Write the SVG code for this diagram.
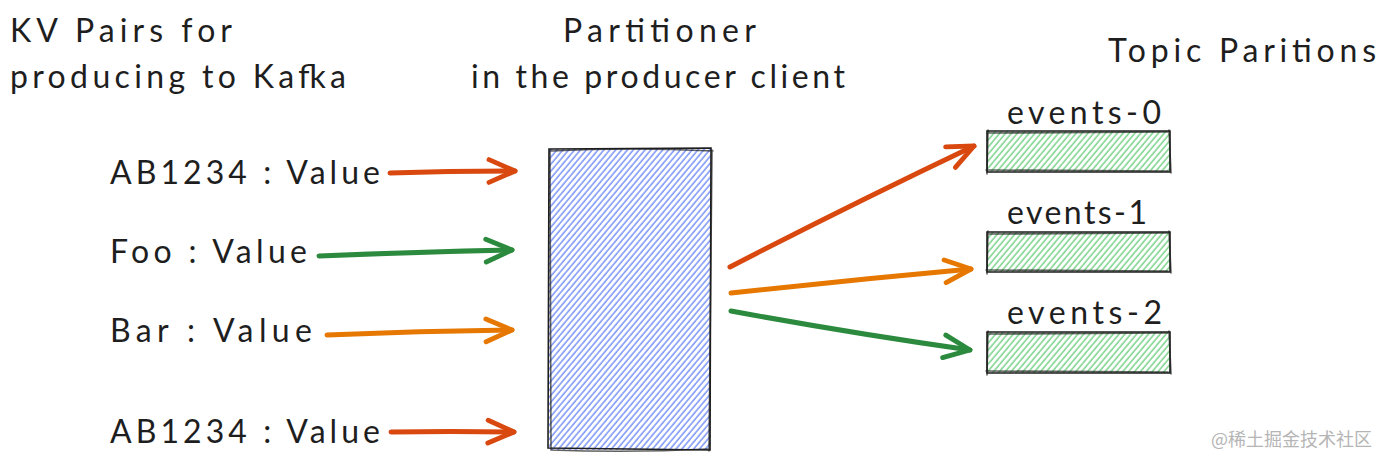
<svg xmlns="http://www.w3.org/2000/svg" width="1386" height="465" viewBox="0 0 1386 465">
<style>
.t{font-family:"Lato","Liberation Sans",sans-serif;fill:#1e1e1e;font-size:32px}
.e{font-family:"Lato","Liberation Sans",sans-serif;fill:#1e1e1e;font-size:32px}
.b{fill:none;stroke:#1e1e1e;stroke-width:1.6;stroke-linecap:round}
.a{fill:none;stroke-width:5;stroke-linecap:round;stroke-linejoin:round}
.red{stroke:#d9480f}.grn{stroke:#2b8a3e}.org{stroke:#e67700}
.wm{font-family:"Noto Sans CJK SC",sans-serif;font-size:18px;fill:#b5b5b5}
</style>
<defs>
<pattern id="hb" width="4.5" height="10" patternUnits="userSpaceOnUse" patternTransform="rotate(40)">
<line x1="1" y1="0" x2="1" y2="10" stroke="#4c6ef5" stroke-width="1.3" stroke-opacity="0.85"/>
</pattern>
<pattern id="hg" width="4.5" height="10" patternUnits="userSpaceOnUse" patternTransform="rotate(40)">
<line x1="1" y1="0" x2="1" y2="10" stroke="#40c057" stroke-width="1.3" stroke-opacity="0.8"/>
</pattern>
<marker id="ah-red" viewBox="0 0 20 20" refX="18" refY="10" markerWidth="6.5" markerHeight="6.5" markerUnits="strokeWidth" orient="auto"><polyline points="2,3 18,10 2,17" fill="none" stroke="#d9480f" stroke-width="3" stroke-linecap="round" stroke-linejoin="round"/></marker>
<marker id="ah-grn" viewBox="0 0 20 20" refX="18" refY="10" markerWidth="6.5" markerHeight="6.5" markerUnits="strokeWidth" orient="auto"><polyline points="2,3 18,10 2,17" fill="none" stroke="#2b8a3e" stroke-width="3" stroke-linecap="round" stroke-linejoin="round"/></marker>
<marker id="ah-org" viewBox="0 0 20 20" refX="18" refY="10" markerWidth="6.5" markerHeight="6.5" markerUnits="strokeWidth" orient="auto"><polyline points="2,3 18,10 2,17" fill="none" stroke="#e67700" stroke-width="3" stroke-linecap="round" stroke-linejoin="round"/></marker>
</defs>
<rect width="1386" height="465" fill="#ffffff"/>

<g id="title-kv">
<text class="t" x="10" y="42" textLength="222" lengthAdjust="spacing">KV Pairs for</text>
<text class="t" x="10" y="88" textLength="336" lengthAdjust="spacing">producing to Kafka</text>
</g>
<g id="title-partitioner">
<text class="t" x="563" y="42" textLength="193" lengthAdjust="spacing">Partitioner</text>
<text class="t" x="471" y="88" textLength="374" lengthAdjust="spacing">in the producer client</text>
</g>
<g id="title-topic">
<text class="t" x="1108" y="62" textLength="268" lengthAdjust="spacing">Topic Paritions</text>
</g>

<g id="kv1"><text class="t" x="110" y="184" textLength="270" lengthAdjust="spacing">AB1234 : Value</text></g>
<g id="kv2"><text class="t" x="110" y="263" textLength="197" lengthAdjust="spacing">Foo : Value</text></g>
<g id="kv3"><text class="t" x="110" y="342" textLength="202" lengthAdjust="spacing">Bar : Value</text></g>
<g id="kv4"><text class="t" x="110" y="443" textLength="270" lengthAdjust="spacing">AB1234 : Value</text></g>

<g id="partitioner">
<rect x="549" y="149" width="162" height="301" fill="url(#hb)"/>
<path class="b" d="M549 149 L711 148 L710 450 L548 448 Z"/>
<path class="b" d="M551 151 Q630 147 713 151 M712 150 L709 451 M551 450 Q630 453 708 449 M550 150 L551 450" stroke-opacity="0.7"/>
</g>

<g id="events-0">
<text class="e" x="1007" y="124" textLength="154" lengthAdjust="spacing">events-0</text>
<rect x="987" y="131" width="183" height="41" fill="url(#hg)"/>
<path class="b" d="M987 131 L1170 131 L1170 172 L987 172 Z"/>
<path class="b" d="M988 133 L1168 132 M1169 130 L1171 173 M986 170 L1168 171 M988 130 L987 174" stroke-opacity="0.7"/>
</g>
<g id="events-1">
<text class="e" x="1007" y="224" textLength="140" lengthAdjust="spacing">events-1</text>
<rect x="987" y="232" width="183" height="40" fill="url(#hg)"/>
<path class="b" d="M987 232 L1170 232 L1170 272 L987 272 Z"/>
<path class="b" d="M988 234 L1168 233 M1169 231 L1171 273 M986 270 L1168 271 M988 231 L987 274" stroke-opacity="0.7"/>
</g>
<g id="events-2">
<text class="e" x="1007" y="324" textLength="155" lengthAdjust="spacing">events-2</text>
<rect x="987" y="332" width="183" height="41" fill="url(#hg)"/>
<path class="b" d="M987 332 L1170 332 L1170 373 L987 373 Z"/>
<path class="b" d="M988 334 L1168 333 M1169 331 L1171 374 M986 371 L1168 372 M988 331 L987 375" stroke-opacity="0.7"/>
</g>

<g id="connectors">
<path class="a red" d="M390 173 Q450 171 515 171" marker-end="url(#ah-red)"/>
<path class="a grn" d="M319 256 Q420 252 512 250" marker-end="url(#ah-grn)"/>
<path class="a org" d="M327 335 Q420 331 512 330" marker-end="url(#ah-org)"/>
<path class="a red" d="M391 432 Q450 431 514 432" marker-end="url(#ah-red)"/>
<path class="a red" d="M730 267 Q850 205 974 146" marker-end="url(#ah-red)"/>
<path class="a org" d="M731 293 Q850 280 971 269" marker-end="url(#ah-org)"/>
<path class="a grn" d="M731 311 Q850 333 970 350" marker-end="url(#ah-grn)"/>
</g>

<text class="wm" x="1211" y="446">@稀土掘金技术社区</text>
</svg>
